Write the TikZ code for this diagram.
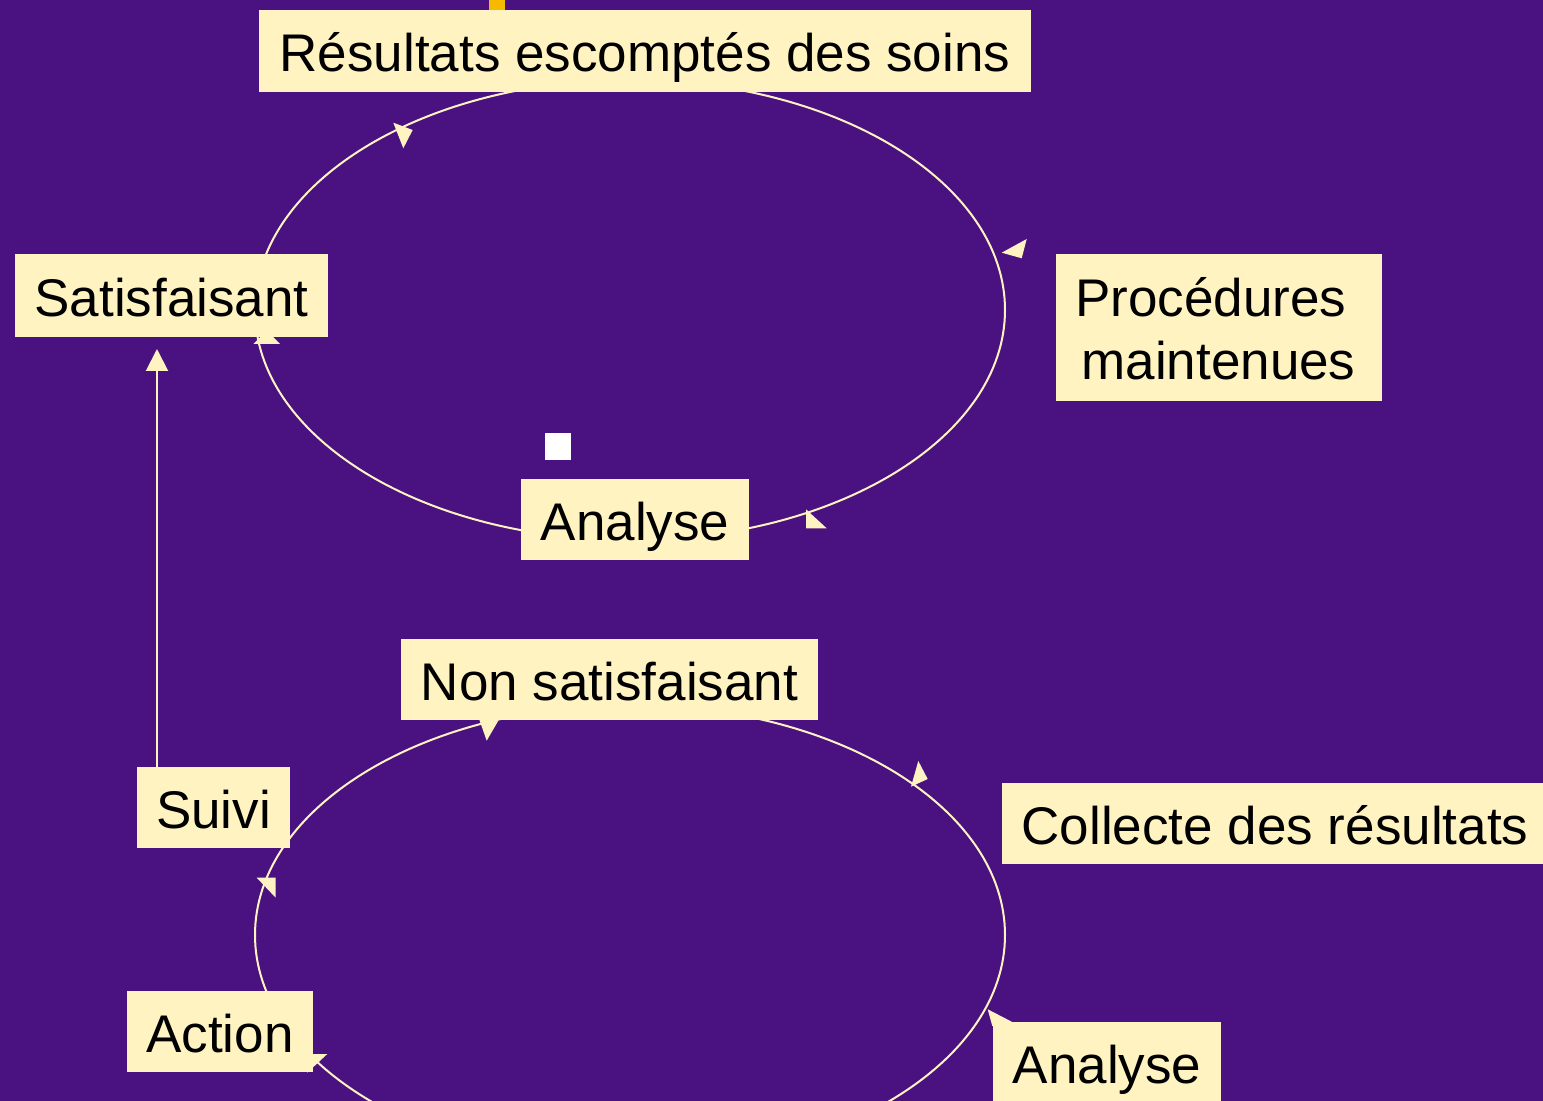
\documentclass[tikz,border=0pt]{standalone}
\usepackage{fontspec}
\setmainfont{Liberation Sans}
\usetikzlibrary{arrows.meta}
\definecolor{bgpurple}{RGB}{74,18,128}
\definecolor{cream}{RGB}{255,243,194}
\definecolor{amber}{RGB}{245,185,0}
\begin{document}
\begin{tikzpicture}[x=0.5pt,y=-0.5pt,
  lbl/.style={fill=cream, inner sep=0pt, text=black,
    font=\fontsize{26.5}{31.5}\selectfont, text height=26pt, text depth=5pt},
  plain/.style={inner sep=0pt, text=black, font=\fontsize{26.5}{31.5}\selectfont, anchor=base},
  ring/.style={draw=cream, line width=1pt},
  tipmark/.style={fill=cream},
]
\useasboundingbox (0,0) rectangle (1543,1101);
\clip (0,0) rectangle (1543,1101);
\fill[bgpurple] (0,0) rectangle (1543,1101);

% cycles
\draw[ring] (630,310) ellipse [x radius=375, y radius=230];
\draw[ring] (630,935) ellipse [x radius=375, y radius=230];

% small marks
\fill[amber] (489,0) rectangle (505,12);
\fill[white] (545,433) rectangle (571,460);

% boxes
\node[lbl, minimum width=386pt, minimum height=41pt] (res) at (645,51) {Résultats escomptés des soins};
\node[lbl, minimum width=156.5pt, minimum height=41.5pt] (sat) at (171.5,295.5) {Satisfaisant};
\node[fill=cream, inner sep=0pt, minimum width=163pt, minimum height=73.5pt] (proc) at (1219,327.5) {};
\node[plain] (procA) at (1211,317) {Procédures};
\node[plain] (procB) at (1218.5,380) {maintenues};
\node[lbl, minimum width=114pt, minimum height=40.5pt] (anaA) at (635,519.5) {Analyse};
\node[lbl, minimum width=208.5pt, minimum height=40.5pt] (nons) at (609.5,679.5) {Non satisfaisant};
\node[lbl, minimum width=76.5pt, minimum height=40.5pt] (suivi) at (213.5,807.5) {Suivi};
\node[lbl, minimum width=273pt, minimum height=40.5pt] (coll) at (1275,823.5) {Collecte des résultats};
\node[lbl, minimum width=93pt, minimum height=40.5pt] (action) at (220,1031.5) {Action};
\node[lbl, minimum width=114pt, minimum height=40.5pt] (anaB) at (1107,1062.5) {Analyse};

% connector Suivi -> Satisfaisant
\coordinate (satTip) at (157,349);
\draw[ring, -{Triangle[width=11pt,length=11pt]}, draw=cream, fill=cream] (suivi.north -| satTip) -- (satTip);

% arrowheads on the upper cycle
\fill[tipmark] (393.3,122.7) -- (412.7,130) -- (403.3,148.3) -- cycle;
\fill[tipmark] (1001.7,252.7) -- (1026.7,239) -- (1021.7,258.3) -- cycle;
\fill[tipmark] (806,509.3) -- (806,528.3) -- (826.7,528.3) -- cycle;
\fill[tipmark] (253.3,344) -- (266.7,330.7) -- (280,344) -- cycle;

% arrowheads on the lower cycle
\fill[tipmark] (477.7,715) -- (498.3,720.7) -- (486.7,740.7) -- cycle;
\fill[tipmark] (918.3,761) -- (927.7,779) -- (911,786.7) -- cycle;
\fill[tipmark] (256.7,877.7) -- (275.7,877.7) -- (275.7,897.7) -- cycle;
\fill[tipmark] (307.3,1054) -- (327.3,1054) -- (307.3,1072.7) -- cycle;
\fill[tipmark] (987.7,1009.3) -- (1011.7,1021.7) -- (992.3,1026) -- cycle;
\end{tikzpicture}
\end{document}
